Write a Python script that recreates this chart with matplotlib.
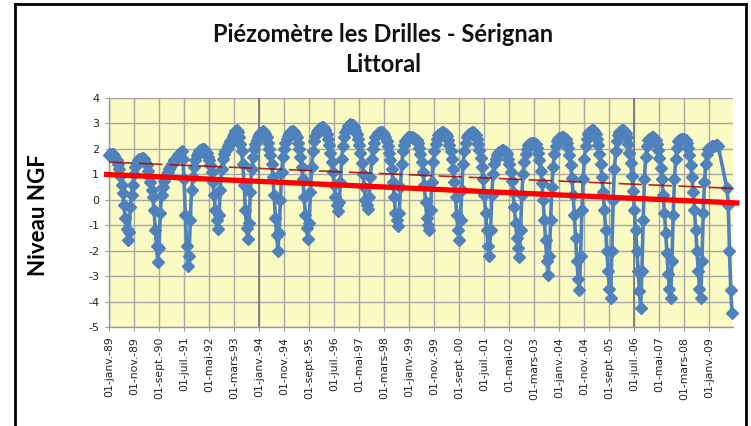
import numpy as np
import matplotlib
matplotlib.use("Agg")
import matplotlib.pyplot as plt
from matplotlib.lines import Line2D

# Semi-monthly piezometric levels (m NGF): 1st and 15th of each month, Jan..Dec
y1989 = [1.75, 1.80, 1.78, 1.80, 1.72, 1.65, 1.55, 1.40, 1.20, 0.95, 0.60, 0.25, -0.20, -0.70, -1.15, -1.60, -1.25, -0.30, 0.20, 0.60, 1.00, 1.30, 1.45, 1.55]
y1990 = [1.60, 1.62, 1.65, 1.65, 1.60, 1.50, 1.35, 1.15, 0.95, 0.70, 0.40, 0.10, -0.40, -1.20, -1.80, -2.45, -1.90, -0.50, 0.20, 0.50, 0.75, 0.90, 1.00, 1.10]
y1991 = [1.20, 1.30, 1.40, 1.45, 1.55, 1.60, 1.70, 1.75, 1.80, 1.85, 1.90, 1.60, 0.80, -0.60, -1.80, -2.60, -2.20, -0.80, 0.40, 0.90, 1.30, 1.55, 1.75, 1.85]
y1992 = [1.90, 1.95, 2.00, 2.00, 1.98, 1.92, 1.85, 1.70, 1.55, 1.35, 1.10, 0.70, 0.20, -0.40, -0.80, -1.15, -0.60, 0.40, 1.20, 1.60, 1.80, 1.90, 2.00, 2.10]
y1993 = [2.20, 2.30, 2.40, 2.50, 2.60, 2.70, 2.75, 2.65, 2.45, 2.20, 1.90, 1.40, 0.60, -0.40, -1.10, -1.55, -0.90, 0.30, 1.20, 1.70, 2.00, 2.20, 2.35, 2.45]
y1994 = [2.55, 2.62, 2.68, 2.70, 2.68, 2.60, 2.45, 2.25, 2.00, 1.75, 1.40, 0.90, 0.20, -0.70, -1.40, -2.00, -1.30, 0.00, 1.10, 1.70, 2.00, 2.25, 2.40, 2.50]
y1995 = [2.58, 2.65, 2.70, 2.70, 2.66, 2.58, 2.45, 2.25, 2.00, 1.70, 1.30, 0.80, 0.10, -0.60, -1.10, -1.55, -0.90, 0.30, 1.30, 1.90, 2.30, 2.50, 2.65, 2.75]
y1996 = [2.80, 2.83, 2.85, 2.85, 2.82, 2.75, 2.60, 2.40, 2.15, 1.85, 1.50, 1.10, 0.60, 0.10, -0.20, -0.45, -0.10, 0.70, 1.60, 2.10, 2.45, 2.65, 2.80, 2.90]
y1997 = [2.95, 2.97, 2.95, 2.92, 2.85, 2.75, 2.60, 2.40, 2.15, 1.85, 1.45, 1.00, 0.50, 0.00, -0.20, -0.35, 0.10, 0.90, 1.60, 2.00, 2.25, 2.45, 2.55, 2.62]
y1998 = [2.63, 2.65, 2.65, 2.62, 2.55, 2.45, 2.30, 2.10, 1.85, 1.55, 1.20, 0.70, 0.10, -0.50, -0.80, -1.05, -0.50, 0.50, 1.40, 1.90, 2.15, 2.30, 2.40, 2.45]
y1999 = [2.45, 2.46, 2.45, 2.44, 2.42, 2.40, 2.35, 2.25, 2.05, 1.80, 1.50, 1.10, 0.60, -0.10, -0.70, -1.00, -1.20, -0.40, 0.70, 1.50, 1.90, 2.20, 2.40, 2.55]
y2000 = [2.60, 2.63, 2.65, 2.65, 2.64, 2.60, 2.50, 2.35, 2.15, 1.90, 1.60, 1.20, 0.70, 0.10, -0.60, -1.20, -1.60, -0.80, 0.40, 1.40, 1.90, 2.25, 2.45, 2.55]
y2001 = [2.60, 2.63, 2.65, 2.65, 2.62, 2.55, 2.40, 2.20, 1.95, 1.65, 1.30, 0.80, 0.20, -0.50, -1.20, -1.80, -2.20, -1.20, 0.20, 1.00, 1.40, 1.60, 1.75, 1.85]
y2002 = [1.88, 1.92, 1.95, 1.95, 1.93, 1.88, 1.78, 1.62, 1.40, 1.10, 0.75, 0.30, -0.30, -0.90, -1.50, -1.90, -2.25, -1.20, 0.20, 1.00, 1.50, 1.80, 2.00, 2.15]
y2003 = [2.18, 2.22, 2.25, 2.25, 2.24, 2.20, 2.05, 1.85, 1.55, 1.15, 0.65, 0.00, -0.80, -1.60, -2.40, -2.95, -2.20, -0.80, 0.50, 1.30, 1.80, 2.10, 2.30, 2.40]
y2004 = [2.42, 2.44, 2.45, 2.45, 2.43, 2.38, 2.25, 2.05, 1.75, 1.35, 0.85, 0.20, -0.60, -1.50, -2.40, -3.10, -3.55, -2.20, -0.40, 0.80, 1.60, 2.10, 2.40, 2.60]
y2005 = [2.68, 2.72, 2.75, 2.75, 2.70, 2.60, 2.40, 2.15, 1.80, 1.40, 0.90, 0.30, -0.40, -1.20, -2.00, -2.80, -3.50, -3.85, -2.00, 0.00, 1.20, 1.90, 2.30, 2.55]
y2006 = [2.65, 2.70, 2.75, 2.75, 2.72, 2.62, 2.45, 2.20, 1.85, 1.45, 0.95, 0.35, -0.40, -1.20, -2.00, -2.80, -3.60, -4.25, -2.80, -0.80, 0.80, 1.70, 2.10, 2.35]
y2007 = [2.40, 2.43, 2.45, 2.45, 2.42, 2.35, 2.20, 1.95, 1.65, 1.25, 0.80, 0.20, -0.50, -1.30, -2.10, -2.90, -3.50, -3.85, -2.40, -0.60, 0.80, 1.60, 2.05, 2.30]
y2008 = [2.33, 2.37, 2.40, 2.40, 2.40, 2.36, 2.25, 2.05, 1.75, 1.35, 0.90, 0.30, -0.40, -1.20, -2.00, -2.80, -3.50, -3.85, -2.40, -0.50, 0.70, 1.40, 1.80, 2.00]
y2009 = [2.05, 2.08, 2.10, 2.12, 2.13, 2.15, 2.15, 2.10, None, None, None, None, None, None, 0.45, -0.20, -2.00, -3.55, -4.45, None, None, None, None, None]

years = [y1989, y1990, y1991, y1992, y1993, y1994, y1995, y1996, y1997, y1998, y1999,
         y2000, y2001, y2002, y2003, y2004, y2005, y2006, y2007, y2008, y2009]

# Trend lines (value at start / end, months since Jan 1989)
trend_thick_x = [-2.0, 252.0]
trend_thick_y = [1.00, -0.13]
trend_thin_x = [0.0, 249.0]
trend_thin_y = [1.48, 0.45]

tick_labels = ["01-janv.-89", "01-nov.-89", "01-sept.-90", "01-juil.-91", "01-mai-92",
               "01-mars-93", "01-janv.-94", "01-nov.-94", "01-sept.-95", "01-juil.-96",
               "01-mai-97", "01-mars-98", "01-janv.-99", "01-nov.-99", "01-sept.-00",
               "01-juil.-01", "01-mai-02", "01-mars-03", "01-janv.-04", "01-nov.-04",
               "01-sept.-05", "01-juil.-06", "01-mai-07", "01-mars-08", "01-janv.-09"]
tick_pos = [10 * i for i in range(len(tick_labels))]

# Build time axis (months since Jan 1989)
t, v = [], []
for yi, vals in enumerate(years):
    for k, val in enumerate(vals):
        if val is None:
            continue
        t.append(yi * 12 + k / 2.0)
        v.append(val)

W, H = 751, 426
fig = plt.figure(figsize=(W / 100, H / 100), dpi=100)
fig.patch.set_facecolor("white")

left, right, top, bottom = 109, 733, 98, 327
ax = fig.add_axes([left / W, 1 - bottom / H, (right - left) / W, (bottom - top) / H])
ax.set_facecolor("#FAFAC3")

ax.set_xlim(0, 249.4)
ax.set_ylim(-5, 4)
ax.set_yticks(range(-5, 5))
ax.set_xticks(tick_pos)
ax.set_xticklabels(tick_labels, rotation=90, fontsize=7.8, color="#222222",
                   family="DejaVu Sans")
ax.set_yticklabels([str(i) for i in range(-5, 5)], fontsize=8, color="#222222")
ax.grid(True, color="#A8A8A8", lw=1.0)
ax.set_axisbelow(True)
for side in ["top", "right"]:
    ax.spines[side].set_visible(False)
for side in ["left", "bottom"]:
    ax.spines[side].set_color("#9A9A9A")
    ax.spines[side].set_linewidth(1.0)
ax.tick_params(axis="both", length=3, color="#9A9A9A", pad=4)
ax.axvline(60, color="#7A7A7A", lw=1.3, zorder=1)
ax.axvline(210, color="#7A7A7A", lw=1.3, zorder=1)

ax.plot(t, v, color="#4F81BD", lw=2.6, marker="D", ms=6, mfc="#4F81BD",
        mec="#4F81BD", zorder=3, clip_on=False)

ax.plot(trend_thin_x, trend_thin_y, color="#B00000", lw=1.2,
        linestyle=(0, (14, 4)), zorder=4, alpha=0.85)
ax.plot(trend_thick_x, trend_thick_y, color="#FF0000", lw=3.8, zorder=5,
        clip_on=False, solid_capstyle="butt")

ax.set_ylabel("Niveau NGF", fontsize=16, fontweight="bold", family="Lato")
ax.yaxis.set_label_coords(-0.096, 0.49)

fig.text(383 / W, 1 - 34 / H, "Piézomètre les Drilles - Sérignan", ha="center",
         va="center", fontsize=17, fontweight="bold", family="Lato", color="#111111")
fig.text(383 / W, 1 - 65 / H, "Littoral", ha="center", va="center", fontsize=17,
         fontweight="bold", family="Lato", color="#111111")

# Chart border
for xs, ys in [([15, 15], [4, H + 2]), ([15, 746], [4, 4]), ([746, 746], [4, H + 2])]:
    fig.add_artist(Line2D([x / W for x in xs], [1 - y / H for y in ys],
                          color="black", lw=2.0, transform=fig.transFigure))

fig.savefig("out.png", dpi=100)
